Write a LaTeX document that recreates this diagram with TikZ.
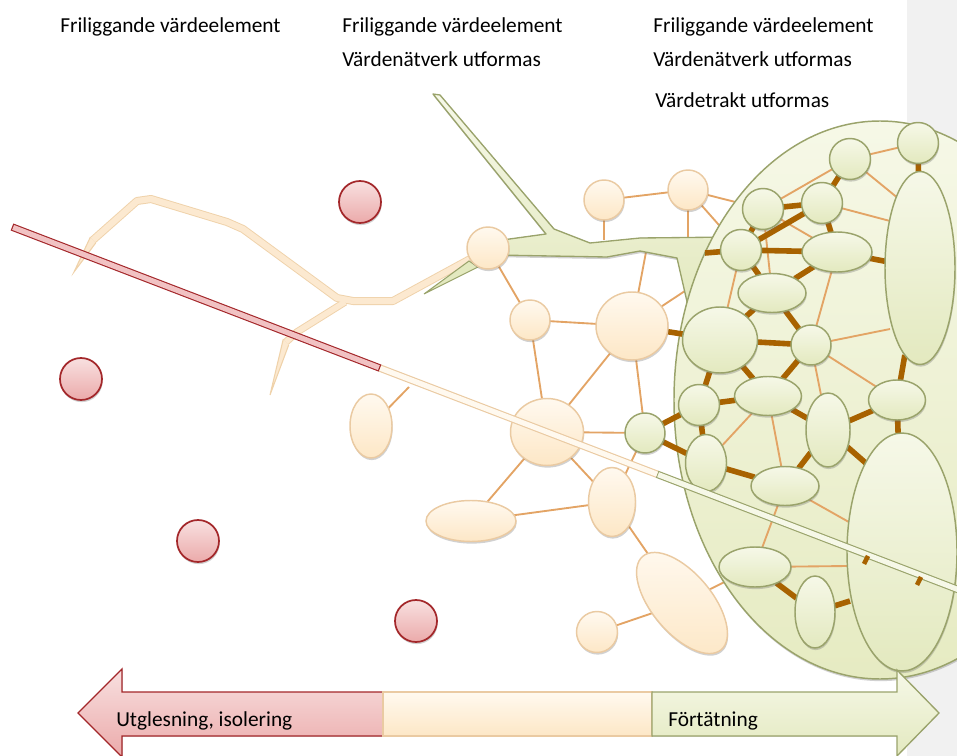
\documentclass[tikz,border=0pt]{standalone}
\usepackage{fontspec}
\setmainfont{Carlito}
\usetikzlibrary{shapes.geometric,shadows,calc}
\definecolor{bT}{HTML}{FFF9EF}
\definecolor{bB}{HTML}{FDE7C6}
\definecolor{bD}{HTML}{EACAA2}
\definecolor{bR}{HTML}{FCE9D0}
\definecolor{bRD}{HTML}{EFD2AA}
\definecolor{gT}{HTML}{F6F8E8}
\definecolor{gB}{HTML}{E3E9BF}
\definecolor{gD}{HTML}{9AA36B}
\definecolor{rT}{HTML}{F8E0E0}
\definecolor{rB}{HTML}{EBAAAA}
\definecolor{rD}{HTML}{A3272A}
\definecolor{rF}{HTML}{F1C2C3}
\definecolor{eT}{HTML}{F6F8E7}
\definecolor{eB}{HTML}{E6EBC2}
\definecolor{thinC}{HTML}{E3A465}
\definecolor{thickC}{HTML}{A86200}
\definecolor{panel}{HTML}{F1F1F1}
\pgfdeclarelayer{l0}
\pgfdeclarelayer{l1}
\pgfdeclarelayer{l2}
\pgfdeclarelayer{l3}
\pgfdeclarelayer{top}
\pgfsetlayers{l0,l1,l2,l3,main,top}
\begin{document}
\begin{tikzpicture}[x=0.75pt,y=-0.75pt,
 nb/.style={inner sep=0pt, outer sep=0pt, line width=1.1pt},
 shad/.style={drop shadow={shadow xshift=0.5pt, shadow yshift=-1.6pt, opacity=0.3, fill=black!60}},
 bn/.style={nb, shad, draw=bD, top color=bT, bottom color=bB},
 gn/.style={nb, shad, draw=gD, top color=gT, bottom color=gB},
 rn/.style={nb, shad, draw=rD, top color=rT, bottom color=rB, line width=1.3pt},
 circ/.style={circle, minimum size=#1*0.75pt},
 ell/.style 2 args={ellipse, minimum width=#1*0.75pt, minimum height=#2*0.75pt},
 thinc/.style={draw=thinC, line width=1.4pt},
 thickc/.style={draw=thickC, line width=4.2pt},
 lbl/.style={anchor=base west, inner sep=0pt, font=\fontsize{16}{19}\selectfont},
]
\useasboundingbox (0,0) rectangle (957,756);

% ---------- nodes ----------
\node[bn,circ=42] (B1) at (488,248) {};
\node[bn,circ=40] (B2) at (604,200) {};
\node[bn,circ=40] (B3) at (688,190) {};
\node[bn,circ=40] (B4) at (530,320) {};
\node[bn,ell={72}{68}] (B5) at (632,326) {};
\node[bn,ell={73}{67}] (B6) at (547,432) {};
\node[bn,ell={42}{64}] (B7) at (371,426) {};
\node[bn,ell={90}{41}] (B8) at (471,521) {};
\node[bn,ell={47}{69}] (B9) at (612,502) {};
\node[bn,ell={122}{60},rotate=-50] (B10) at (682,603) {};
\node[bn,circ=41] (B11) at (597,632) {};

\node[gn,circ=41] (G1) at (850,159) {};
\node[gn,circ=41] (G2) at (918,143) {};
\node[gn,circ=41] (G3) at (763,209) {};
\node[gn,circ=41] (G4) at (822,203) {};
\node[gn,circ=41] (G5) at (741,250) {};
\node[gn,ell={70}{40}] (G6) at (837,252) {};
\node[gn,ell={70}{193}] (G7) at (920,268) {};
\node[gn,ell={68}{39}] (G8) at (772,293) {};
\node[gn,ell={75}{66}] (G9) at (720,340) {};
\node[gn,circ=40] (G10) at (811,345) {};
\node[gn,circ=41] (G11) at (699,405) {};
\node[gn,ell={67}{39}] (G12) at (768,396) {};
\node[gn,ell={44}{74}] (G13) at (828,430) {};
\node[gn,ell={57}{40}] (G14) at (897,400) {};
\node[gn,circ=40] (G15) at (645,433) {};
\node[gn,ell={41}{57}] (G16) at (706,463) {};
\node[gn,ell={68}{39}] (G17) at (785,486) {};
\node[gn,ell={72}{40}] (G18) at (755,567) {};
\node[gn,ell={40}{72}] (G19) at (815,612) {};
\node[gn,ell={110}{238}] (G20) at (902,552) {};

\node[rn,circ=42] (R1) at (360,202) {};
\node[rn,circ=42] (R2) at (81,379) {};
\node[rn,circ=42] (R3) at (198,541) {};
\node[rn,circ=42] (R4) at (416,621) {};

% free ends
\coordinate (cb2) at (604,240);
\coordinate (cb3) at (688,240);
\coordinate (cb5) at (646,252);
\coordinate (c5g) at (700,281);
\coordinate (c7) at (409,387);
\coordinate (cg5) at (705,253);
\coordinate (cg7a) at (899,199);
\coordinate (cg7b) at (890,221);
\coordinate (cg7c) at (890,329);
\coordinate (cg20a) at (848,566);
\coordinate (cg20b) at (868,465);
\coordinate (cg20c) at (850,601);

% ---------- background ----------
\begin{pgfonlayer}{l0}
\fill[panel] (907,0) rectangle (957,756);
% beige river
\fill[bR] (90.4,237) -- (95.7,243) -- (74,272) -- cycle;
\draw[bRD, line width=0.8pt] (90.4,237) -- (74,272) -- (95.7,243);
\fill[bR] (283.3,339) -- (288.7,345) -- (270,395) -- cycle;
\draw[bRD, line width=0.8pt] (283.3,339) -- (270,395) -- (288.7,345);
\draw[bRD, line width=6pt, line join=round] (93,240) -- (137,201) -- (151,199) -- (227,222) -- (243,229) -- (337,298) -- (353,301) -- (393,301) -- (472,258);
\draw[bRD, line width=5.6pt, line join=round] (345,302) -- (297,332) -- (286,342);
\draw[bR, line width=4.6pt, line join=round] (93,240) -- (137,201) -- (151,199) -- (227,222) -- (243,229) -- (337,298) -- (353,301) -- (393,301) -- (472,258);
\draw[bR, line width=4.2pt, line join=round] (345,302) -- (297,332) -- (286,342);
\end{pgfonlayer}

% ---------- connectors hidden under the large area ----------
\begin{pgfonlayer}{l1}
\draw[thinc] (B3) -- (G3);
\draw[thinc] (B3) -- (G5);
\draw[thinc] (B5) -- (c5g);
\draw[thinc] (B10) -- (G18);
\draw[thinc] (B2) -- (cb2);
\draw[thinc] (B3) -- (cb3);
\draw[thinc] (B5) -- (cb5);
\end{pgfonlayer}

% ---------- green river and large area ----------
\begin{pgfonlayer}{l2}
\filldraw[draw=gD, line width=1pt, top color=gT, bottom color=gB, shad, line join=round]
 (495,241) -- (546,234) -- (433,94) -- (440,95) -- (554,229) -- (590,243) -- (640,238) -- (735,237)
 -- (735,300) -- (688,306) -- (677,258) -- (640,251) -- (607,257) -- (495,255) -- cycle;
\filldraw[draw=gD, line width=0.8pt, fill=gB] (469,261) -- (478,267) -- (424,294) -- cycle;
\draw[draw=gD, line width=1.1pt, top color=eT, bottom color=eB, shad] (880,400) ellipse [x radius=206, y radius=279];
\end{pgfonlayer}

% ---------- connectors ----------
\begin{pgfonlayer}{l3}
\foreach \a/\b in {B2/B3, B1/B4, B4/B5, B4/B6, B5/B6, B5/G15, B6/G15, B6/B8, B6/B9, B8/B9, B9/B10, B10/B11, B9/G15, B7/c7,
  G1/G2, G1/cg7a, G1/G3, G4/cg7b, G3/G6, G3/G8, G5/G9, G6/G10, G10/cg7c, G10/G13, G10/G14, G12/G16, G12/G17, G17/G18, G17/G20, G18/cg20a}
  \draw[thinc] (\a) -- (\b);
\foreach \a/\b in {B5/G9, G2/G7, G1/G4, G3/G4, G4/G6, G3/G5, G5/G4, G5/G6, G6/G7, G5/cg5, G5/G8, G6/G8, G8/G9, G8/G10, G9/G10,
  G7/G14, G9/G11, G9/G12, G10/G12, G11/G12, G11/G15, G11/G16, G12/G13, G13/G14, G14/G20, G13/cg20b, G13/G17, G15/G16, G16/G17, G18/G19, G19/cg20c}
  \draw[thickc] (\a) -- (\b);
\end{pgfonlayer}

% ---------- bar, arrow, texts ----------
\begin{pgfonlayer}{top}
\coordinate (barA) at (12,227);
\coordinate (barR) at (380,368.1);
\coordinate (barM) at (657,474.2);
\coordinate (barE) at (985,599.9);
\draw[gD, line width=5.6pt] (barM) -- (barE);
\draw[gT, line width=3.9pt, shorten <=0.9pt] (barM) -- (barE);
\draw[bD, line width=5.6pt] (barR) -- (barM);
\draw[bT, line width=3.9pt] (barR) -- (barM);
\draw[rD, line width=5.6pt] (barA) -- (barR);
\draw[rF, line width=3.9pt, shorten <=0.9pt, shorten >=0.9pt] (barA) -- (barR);
\coordinate (tk1a) at (864,564);
\coordinate (tk1b) at (868,556);
\coordinate (tk2a) at (917,585);
\coordinate (tk2b) at (921,577);
\draw[thickc, line width=3.4pt] (tk1a) -- (tk1b);
\draw[thickc, line width=3.4pt] (tk2a) -- (tk2b);

\filldraw[draw=rD, line width=1pt, top color=rT, bottom color=rB]
 (383,692) -- (122,692) -- (122,669) -- (78,713) -- (122,757) -- (122,736) -- (383,736) -- cycle;
\filldraw[draw=bD, line width=1pt, top color=bT, bottom color=bB] (383,692) rectangle (652,736);
\filldraw[draw=gD, line width=1pt, top color=gT, bottom color=gB]
 (652,692) -- (897,692) -- (897,670) -- (939,713) -- (897,756) -- (897,736) -- (652,736) -- cycle;

\node[lbl] (t1) at (60,33) {Friliggande värdeelement};
\node[lbl] (t2) at (342,33) {Friliggande värdeelement};
\node[lbl] (t3) at (342,67) {Värdenätverk utformas};
\node[lbl] (t4) at (653,33) {Friliggande värdeelement};
\node[lbl] (t5) at (653,67) {Värdenätverk utformas};
\node[lbl] (t6) at (655,108) {Värdetrakt utformas};
\node[lbl] (t7) at (116,726) {Utglesning, isolering};
\node[lbl] (t8) at (668,726) {Förtätning};
\end{pgfonlayer}
\end{tikzpicture}
\end{document}
